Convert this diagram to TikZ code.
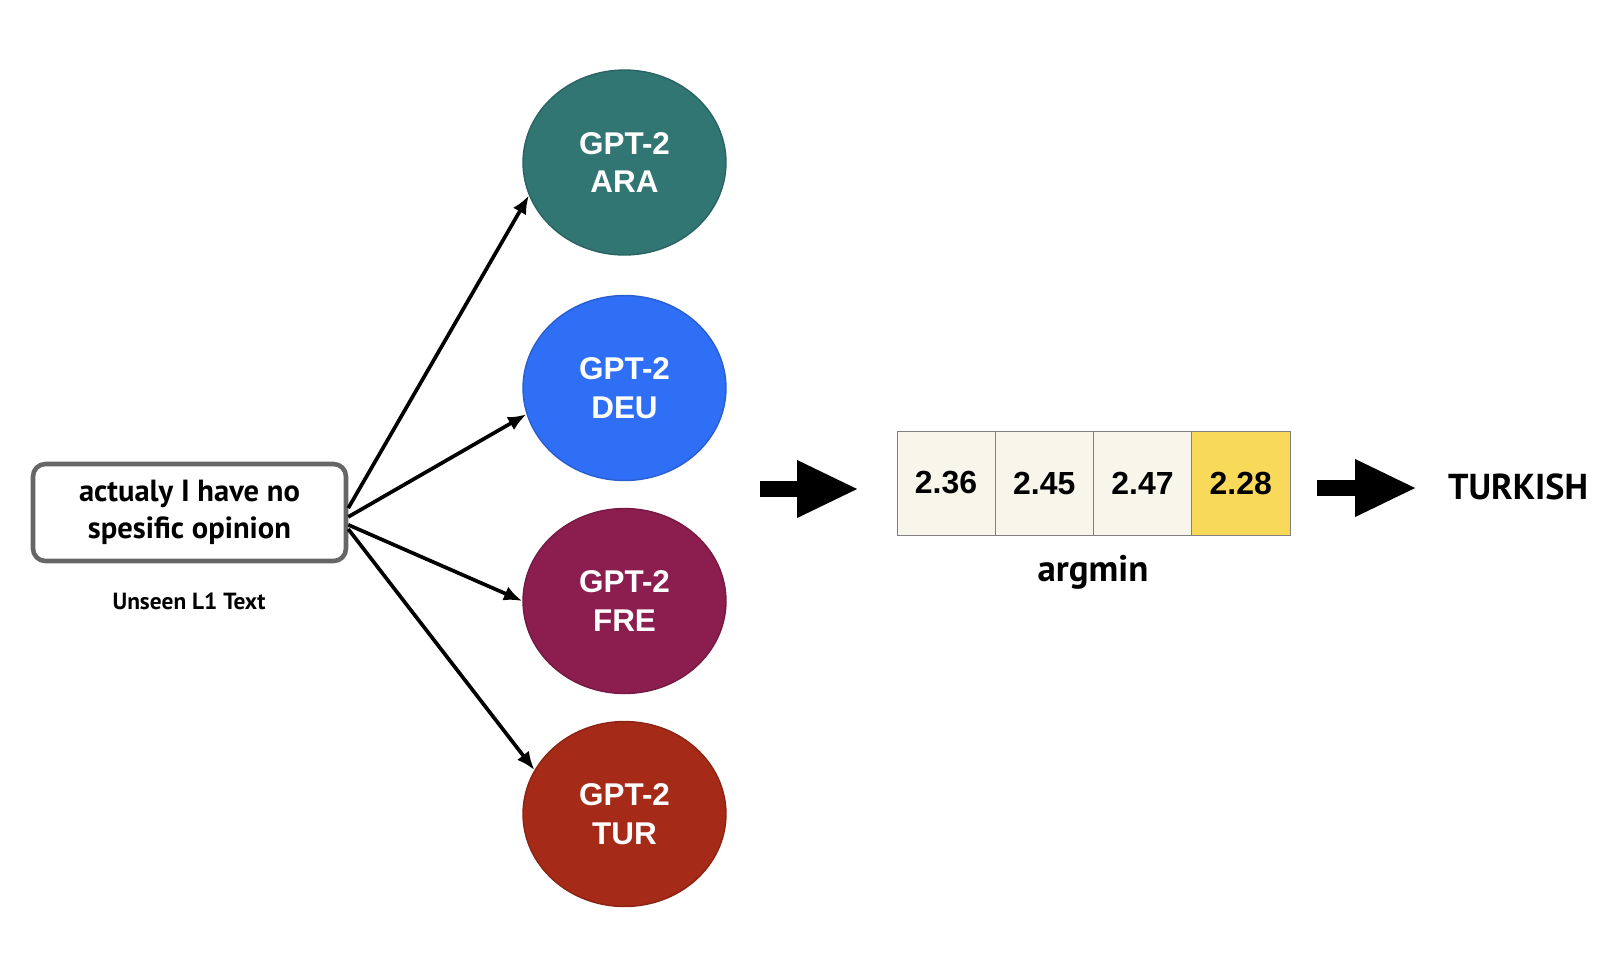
\documentclass[tikz,border=0pt]{standalone}
\usepackage{fontspec}
\setmainfont{PT Sans}
\newfontfamily\helv{Liberation Sans}
\usetikzlibrary{arrows.meta, shapes.geometric}
\definecolor{araclr}{HTML}{317673}
\definecolor{deuclr}{HTML}{2F6FF5}
\definecolor{freclr}{HTML}{8B1E4F}
\definecolor{turclr}{HTML}{A52A18}
\definecolor{cream}{HTML}{F8F6EA}
\definecolor{minclr}{HTML}{F8D95A}
\definecolor{boxgray}{HTML}{666666}

\begin{document}
\begin{tikzpicture}[
    x=0.02cm, y=-0.02cm,
    >={Latex[length=10.5pt,width=8.5pt]},
    txtbox/.style={draw=boxgray, line width=2.6pt, rounded corners=7pt, minimum width=6.26cm, minimum height=1.94cm, align=center, font=\bfseries\fontsize{17.4}{21}\selectfont},
    model/.style={ellipse, draw=#1!85!black, fill=#1, line width=0.8pt, minimum width=4.06cm, minimum height=3.7cm, text=white, align=center, font=\helv\bfseries\fontsize{17.9}{22}\selectfont},
    cell/.style={draw=gray, fill=#1, minimum width=1.965cm, minimum height=2.08cm, inner sep=0pt, font=\helv\bfseries\fontsize{18.2}{21}\selectfont},
    bigarrow/.style={line width=0.32cm, -{Triangle[length=1.24cm,width=1.06cm]}}
]
    \useasboundingbox (0,0) rectangle (1604,975);

    \node[txtbox] (txt) at (189.5,512.5) {actualy I have no\\spesific opinion};
    \node[font=\bfseries\fontsize{13.3}{15}\selectfont] (cap) at (189,601) {Unseen L1 Text};

    \node[model=araclr] (ara) at (624.5,162.5) {GPT-2\\ARA};
    \node[model=deuclr] (deu) at (624.5,388) {GPT-2\\DEU};
    \node[model=freclr] (fre) at (624.5,601) {GPT-2\\FRE};
    \node[model=turclr] (tur) at (624.5,814) {GPT-2\\TUR};

    \draw[->, line width=2.1pt] ([yshift=2.5pt]txt.east) -- (ara.199);
    \draw[->, line width=2.1pt] ([yshift=-2.5pt]txt.east) -- (deu.195);
    \draw[->, line width=2.1pt] ([yshift=-7pt]txt.east) -- (fre.180);
    \draw[->, line width=2.1pt] ([yshift=-9.4pt]txt.east) -- (tur.154);

    \coordinate (a1s) at (760,489);
    \coordinate (a1e) at (859,489);
    \draw[bigarrow] (a1s) -- (a1e);

    \node[cell=cream] (c1) at (946,483) {2.36};
    \node[cell=cream] (c2) at (1044.25,483) {2.45};
    \node[cell=cream] (c3) at (1142.5,483) {2.47};
    \node[cell=minclr] (c4) at (1240.75,483) {2.28};
    \node[font=\bfseries\fontsize{21}{24}\selectfont] (argmin) at (1093,572) {argmin};

    \coordinate (a2s) at (1317,488);
    \coordinate (a2e) at (1417,488);
    \draw[bigarrow] (a2s) -- (a2e);
    \node[font=\bfseries\fontsize{20.5}{24}\selectfont] (turk) at (1518,487) {TURKISH};
\end{tikzpicture}
\end{document}
